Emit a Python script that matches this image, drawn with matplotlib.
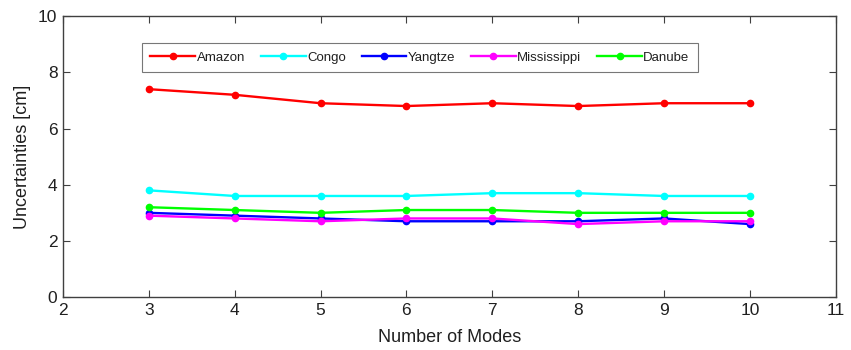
import matplotlib
matplotlib.use("Agg")
import matplotlib.pyplot as plt

plt.rcParams["font.family"] = ["Liberation Sans", "DejaVu Sans"]

modes = [3, 4, 5, 6, 7, 8, 9, 10]
amazon = [7.4, 7.2, 6.9, 6.8, 6.9, 6.8, 6.9, 6.9]
congo = [3.8, 3.6, 3.6, 3.6, 3.7, 3.7, 3.6, 3.6]
yangtze = [3.0, 2.9, 2.8, 2.7, 2.7, 2.7, 2.8, 2.6]
mississippi = [2.9, 2.8, 2.7, 2.8, 2.8, 2.6, 2.7, 2.7]
danube = [3.2, 3.1, 3.0, 3.1, 3.1, 3.0, 3.0, 3.0]

series = [
    ("Amazon", amazon, "#ff0000"),
    ("Congo", congo, "#00ffff"),
    ("Yangtze", yangtze, "#0000ff"),
    ("Mississippi", mississippi, "#ff00ff"),
    ("Danube", danube, "#00ff00"),
]

xticks = list(range(2, 12))
yticks = [0, 2, 4, 6, 8, 10]
frame_color = "#404040"

fig = plt.figure(figsize=(8.51, 3.5), dpi=100)
ax = fig.add_axes([0.074, 0.151, 0.908, 0.803])

for name, vals, color in series:
    ax.plot(modes, vals, color=color, lw=1.7, marker="o", ms=4.5,
            markeredgecolor=color, label=name)

ax.set_xlim(2, 11)
ax.set_ylim(0, 10)
ax.set_xticks(xticks)
ax.set_yticks(yticks)
ax.tick_params(direction="in", length=5, width=0.8, top=True, right=True,
               labelsize=12.5, pad=4, color=frame_color, labelcolor="#202020")
for s in ax.spines.values():
    s.set_linewidth(1.0)
    s.set_color(frame_color)

ax.set_xlabel("Number of Modes", fontsize=13, labelpad=8, color="#202020")
ax.set_ylabel("Uncertainties [cm]", fontsize=13, labelpad=5, color="#202020")

leg = ax.legend(loc="upper left", bbox_to_anchor=(0.102, 0.904), ncol=5,
                frameon=True, fancybox=False, edgecolor="#555555",
                fontsize=9.5, handlelength=3.4, handletextpad=0.1,
                columnspacing=1.2, borderpad=0.65, borderaxespad=0)
leg.get_frame().set_linewidth(0.8)
for t in leg.get_texts():
    t.set_color("#202020")

fig.savefig("out.png", dpi=100)
